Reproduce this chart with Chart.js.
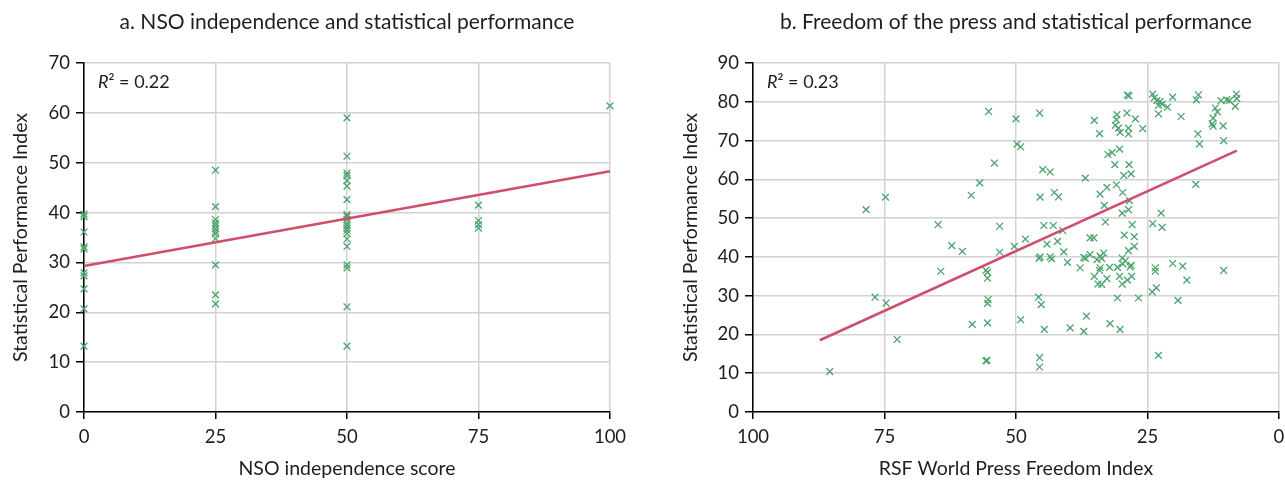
<!DOCTYPE html>
<html>
<head>
<meta charset="utf-8">
<script src="https://cdn.jsdelivr.net/npm/chart.js@4.4.1/dist/chart.umd.min.js"></script>
<style>
  html, body { margin: 0; padding: 0; background: #fff; }
  #wrap { position: relative; width: 1285px; height: 480px; overflow: hidden; }
  .panel { position: absolute; top: 0; }
</style>
</head>
<body>
<div id="wrap">
  <div class="panel" style="left:0"><canvas id="chartA" width="640" height="480"></canvas></div>
  <div class="panel" style="left:640px"><canvas id="chartB" width="645" height="480"></canvas></div>
</div>
<script>
// panel a: NSO independence score vs SPI
var nsoScore = [0,0,0,0,0,0,0,0,0,0,
  25,25,25,25,25,25,25,25,25,25,25,25,
  50,50,50,50,50,50,50,50,50,50,50,50,50,50,50,50,50,50,50,50,50,
  75,75,75,75,
  100];
var nsoSpi = [39.7,39.2,36.1,33.1,32.7,27.9,27.3,24.7,20.7,13.2,
  48.5,41.2,38.6,37.9,37.4,36.8,36.2,35.7,34.8,29.5,23.5,21.7,
  59.0,51.3,47.9,47.4,46.4,45.3,42.6,39.6,39.2,38.6,37.9,37.4,36.9,36.4,35.8,34.7,33.2,29.5,28.9,21.1,13.2,
  41.5,38.4,37.6,36.9,
  61.4];
var nsoFitX = [0, 100];
var nsoFitY = [29.3, 48.3];

// panel b: RSF World Press Freedom Index vs SPI
var rsfScore = [85.4,78.5,76.8,74.8,74.7,72.6,64.8,64.3,62.2,60.2,58.5,58.3,56.9,55.7,55.4,55.4,55.3,55.4,55.4,55.5,55.7,55.2,54.1,53.1,53.1,
  50.0,49.8,49.1,50.3,49.1,48.2,45.5,44.9,43.5,45.4,42.7,41.9,44.7,42.9,41.1,44.1,42.1,45.6,45.4,43.5,43.2,40.9,40.2,45.7,45.2,44.6,45.5,45.5,
  39.7,37.1,36.6,32.1,30.2,30.7,26.7,35.9,35.2,
  35.9,36.8,37.8,34.6,33.7,33.3,29.8,29.2,29.7,34.0,34.1,32.2,30.7,28.3,35.1,30.3,28.0,32.7,34.4,33.7,29.8,28.8,28.6,27.5,37.1,34.0,28.1,
  36.8,35.1,34.1,30.8,30.9,31.1,30.2,30.5,28.9,28.6,28.6,27.3,25.9,28.8,28.5,32.5,31.7,30.3,31.2,28.5,29.5,28.1,34.0,32.7,30.9,29.7,33.2,29.8,28.6,28.4,33.0,27.9,29.4,27.5,
  24.0,22.2,22.4,23.5,23.5,24.1,23.3,20.2,18.3,17.5,19.2,10.5,22.9,15.8,
  24.0,23.7,23.2,22.6,22.9,22.2,22.9,21.2,20.2,18.6,15.7,15.3,12.1,11.7,12.5,12.7,12.5,10.6,11.0,9.9,9.4,8.1,8.0,8.3,15.4,15.1,10.5];
var rsfSpi = [10.4,52.2,29.6,55.4,28.1,18.7,48.3,36.3,42.9,41.4,55.9,22.6,59.1,36.5,36.0,34.5,29.0,28.0,23.0,13.3,13.2,77.5,64.2,47.9,41.2,
  75.6,69.1,68.4,42.7,23.8,44.6,77.1,62.5,61.9,55.4,56.6,55.5,48.1,48.1,46.8,43.3,44.0,39.6,40.0,40.0,39.5,41.3,38.6,29.6,27.7,21.3,14.0,11.6,
  21.7,20.8,24.7,22.8,21.3,29.4,29.4,44.9,44.9,
  40.6,39.6,37.2,39.3,39.6,41.0,39.7,39.0,38.2,37.2,36.5,37.3,37.3,37.4,35.0,35.0,35.0,34.4,33.0,32.9,33.0,34.0,41.6,42.7,39.9,40.2,37.8,
  60.3,75.2,71.8,76.7,75.4,73.9,72.1,73.2,77.1,73.2,71.7,75.6,73.1,81.7,81.5,66.4,66.9,67.8,63.8,63.8,61.0,61.4,56.2,57.9,58.6,56.6,53.3,51.3,52.2,54.5,49.0,48.3,45.6,45.2,
  48.6,47.6,51.3,37.2,36.3,31.0,32.0,38.3,37.6,34.0,28.8,36.5,14.6,58.7,
  82.0,81.0,80.3,80.1,79.1,79.4,76.9,78.6,81.2,76.2,80.5,81.8,78.4,77.4,75.8,74.3,73.7,73.8,80.3,80.5,80.3,82.0,80.8,78.8,71.7,69.1,70.0];
var rsfFitX = [87.3, 8.0];
var rsfFitY = [18.5, 67.4];

var FONT = 'Lato';
var TEXT = '#1e1e1e';
var GREEN = '#4ba36c';
var RED = '#cf4f6b';

function pairs(xs, ys) {
  return xs.map(function (x, i) { return { x: x, y: ys[i] }; });
}

// R² label in the top-left corner of the plot
var r2Label = {
  id: 'r2Label',
  afterDraw: function (chart, args, opts) {
    var ctx = chart.ctx, area = chart.chartArea;
    var x = area.left + 14, y = area.top + 19;
    ctx.save();
    ctx.fillStyle = TEXT;
    ctx.textBaseline = 'middle';
    ctx.font = 'italic 18px ' + FONT;
    ctx.fillText('R', x, y);
    var w = ctx.measureText('R').width;
    ctx.font = '18px ' + FONT;
    ctx.fillText('\u00B2 = ' + opts.text, x + w, y);
    ctx.restore();
  }
};

function makePanel(id, o) {
  var ctx = document.getElementById(id).getContext('2d');
  return new Chart(ctx, {
    type: 'scatter',
    data: {
      datasets: [
        { data: pairs(o.fitX, o.fitY), showLine: true, borderColor: RED, borderWidth: 2.6,
          pointRadius: 0, fill: false, order: 0, clip: false },
        { data: pairs(o.xs, o.ys), pointStyle: 'crossRot', pointRadius: 4.8, borderWidth: 1.3,
          borderColor: GREEN, backgroundColor: GREEN, order: 1, clip: false }
      ]
    },
    options: {
      responsive: false, animation: false, devicePixelRatio: 1,
      layout: { padding: { left: o.padLeft, right: o.padRight, top: 0, bottom: 0 } },
      plugins: {
        legend: { display: false }, tooltip: { enabled: false },
        title: { display: true, text: o.title, color: TEXT, fullSize: false,
          font: { family: FONT, size: 21, weight: 'normal' }, padding: { top: 10, bottom: 27.8 } },
        r2Label: { text: o.r2 }
      },
      scales: {
        x: {
          min: 0, max: 100, reverse: o.reverse,
          afterFit: function (s) { s.height = 68; s.paddingLeft = 0; s.paddingRight = 0; },
          ticks: { stepSize: 25, color: TEXT, padding: 7, font: { family: FONT, size: 18.5 } },
          grid: { color: '#d2d2d2', lineWidth: 1.5, tickColor: '#000', tickWidth: 1.5, tickLength: 7 },
          border: { color: '#000', width: 1.5 },
          title: { display: true, text: o.xTitle, color: TEXT, padding: { top: 0, bottom: 0 },
            font: { family: FONT, size: 19.5 } }
        },
        y: {
          min: 0, max: o.yMax,
          afterFit: function (s) { s.width = o.yWidth; },
          ticks: { stepSize: 10, color: TEXT, padding: 6, font: { family: FONT, size: 18.5 } },
          grid: { color: '#d2d2d2', lineWidth: 1.5, tickColor: '#000', tickWidth: 1.5, tickLength: 8 },
          border: { color: '#000', width: 1.5 },
          title: { display: true, text: 'Statistical Performance Index', color: TEXT, padding: { top: 0, bottom: 0 },
            font: { family: FONT, size: 19.5 } }
        }
      }
    },
    plugins: [r2Label]
  });
}

makePanel('chartA', {
  title: 'a. NSO independence and statistical performance',
  xTitle: 'NSO independence score', r2: '0.22',
  xs: nsoScore, ys: nsoSpi, fitX: nsoFitX, fitY: nsoFitY,
  yMax: 70, reverse: false, padLeft: 9, padRight: 30, yWidth: 75
});

makePanel('chartB', {
  title: 'b. Freedom of the press and statistical performance',
  xTitle: 'RSF World Press Freedom Index', r2: '0.23',
  xs: rsfScore, ys: rsfSpi, fitX: rsfFitX, fitY: rsfFitY,
  yMax: 90, reverse: true, padLeft: 39, padRight: 6, yWidth: 74
});
</script>
</body>
</html>
